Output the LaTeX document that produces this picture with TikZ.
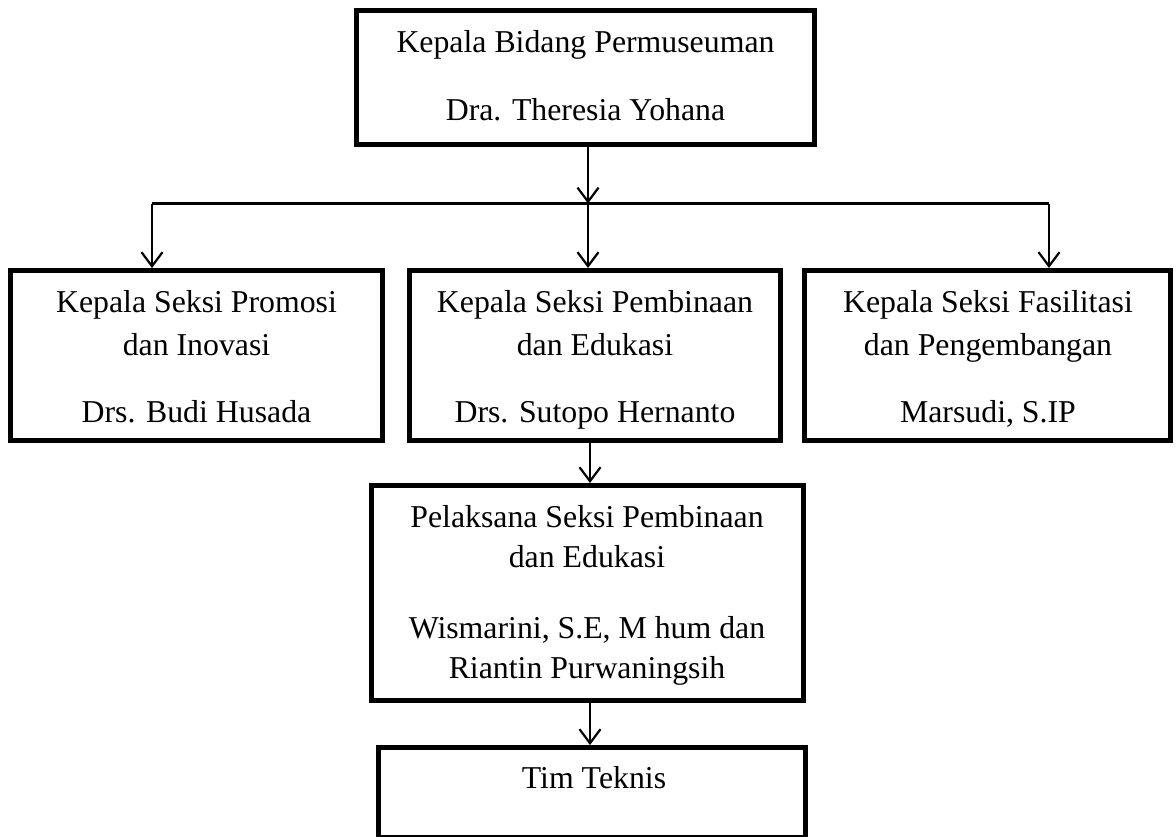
\documentclass[tikz,border=0pt]{standalone}
\usepackage{fontspec}
\setmainfont{Liberation Serif}
\usetikzlibrary{arrows.meta}
\begin{document}
\begin{tikzpicture}[x=1pt,y=-1pt,
  box/.style={draw=black, line width=5pt, rectangle, inner sep=0pt},
  txt/.style={anchor=base, inner sep=0pt, font=\fontsize{31.8}{40}\selectfont},
  conn/.style={line width=2.2pt},
  arr/.style={line width=2.2pt, -{Straight Barb[length=14pt,width=21pt]}}]
\useasboundingbox (0,0) rectangle (1176,836);
\fill[white] (0,0) rectangle (1176,836);
% boxes
\node[box, minimum width=458pt, minimum height=134pt] (top) at (585.5,77.5) {};
\node[box, minimum width=372pt, minimum height=170pt] (left) at (196.5,355.5) {};
\node[box, minimum width=371pt, minimum height=170pt] (mid) at (595,355.5) {};
\node[box, minimum width=366pt, minimum height=170pt] (right) at (987.5,355.5) {};
\node[box, minimum width=432pt, minimum height=215pt] (pel) at (587.5,593) {};
\node[box, minimum width=427pt, minimum height=89.5pt] (tim) at (592,792.25) {};
% texts
\node[txt] (ta) at (585.5,52) {Kepala Bidang Permuseuman};
\node[txt] (tb) at (585.5,120) {Dra. Theresia Yohana};
\node[txt] (la) at (196.5,312) {Kepala Seksi Promosi};
\node[txt] (lb) at (196.5,355) {dan Inovasi};
\node[txt] (lc) at (196.5,422) {Drs. Budi Husada};
\node[txt] (ma) at (595,312) {Kepala Seksi Pembinaan};
\node[txt] (mb) at (595,355) {dan Edukasi};
\node[txt] (mc) at (595,422) {Drs. Sutopo Hernanto};
\node[txt] (ra) at (988,312) {Kepala Seksi Fasilitasi};
\node[txt] (rb) at (988,355) {dan Pengembangan};
\node[txt] (rc) at (988,422) {Marsudi, S.IP};
\node[txt] (pa) at (587,527) {Pelaksana Seksi Pembinaan};
\node[txt] (pb) at (587,567.5) {dan Edukasi};
\node[txt] (pc) at (587,638) {Wismarini, S.E, M hum dan};
\node[txt] (pd) at (587,678) {Riantin Purwaningsih};
\node[txt] (tt) at (594,788) {Tim Teknis};
% connectors
\coordinate (j) at (588,203.5);
\coordinate (jl) at (152,203.5);
\coordinate (jr) at (1049,203.5);
\coordinate (k) at (590,0);
\draw[conn] (jl) -- (jr);
\draw[arr] (top.south -| j) -- (j);
\draw[arr] (jl) -- (jl |- left.north);
\draw[arr] (j) -- (j |- mid.north);
\draw[arr] (jr) -- (jr |- right.north);
\draw[arr] (mid.south -| k) -- (k |- pel.north);
\draw[arr] (pel.south -| k) -- (k |- tim.north);
\end{tikzpicture}
\end{document}
